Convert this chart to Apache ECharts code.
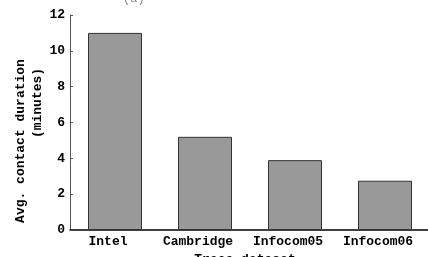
<!DOCTYPE html>
<html>
<head>
<meta charset="utf-8">
<script src="https://cdn.jsdelivr.net/npm/echarts@6/dist/echarts.min.js"></script>
<style>
  html, body { margin: 0; padding: 0; background: #fff; }
  #chart { width: 428px; height: 257px; }
</style>
</head>
<body>
<div id="chart"></div>
<script>
const datasets = ['Intel', 'Cambridge', 'Infocom05', 'Infocom06'];
const durations = [11, 5.2, 3.9, 2.75];

const font = 'Liberation Mono';

const chart = echarts.init(document.getElementById('chart'));
chart.setOption({
  animation: false,
  title: {
    text: '(a)',
    left: 118,
    top: -12,
    textStyle: { fontFamily: font, fontSize: 12, fontWeight: 'normal', color: '#888' }
  },
  grid: { left: 70, right: -2, top: 15, bottom: 27, outerBoundsMode: 'none', containLabel: false },
  xAxis: {
    type: 'category',
    data: datasets,
    name: 'Trace dataset',
    nameLocation: 'middle',
    nameGap: 17,
    nameTextStyle: { fontFamily: font, fontSize: 13, fontWeight: 'bold', color: '#000', padding: [0, 10, 0, 0] },
    axisLine: { lineStyle: { color: '#000', width: 1.5 } },
    axisTick: { show: false },
    axisLabel: { interval: 0, fontFamily: font, fontSize: 13, fontWeight: 'bold', color: '#000', margin: 5, padding: [0, 14, 0, 0] }
  },
  yAxis: {
    type: 'value',
    min: 0,
    max: 12,
    interval: 2,
    name: 'Avg. contact duration',
    nameLocation: 'middle',
    nameGap: 43,
    nameTextStyle: { fontFamily: font, fontSize: 13, fontWeight: 'bold', color: '#000', padding: [0, 37, 0, 0] },
    axisLine: { show: true, lineStyle: { color: '#555', width: 1 } },
    axisTick: { show: true, inside: true, length: 3, lineStyle: { color: '#555' } },
    splitLine: { show: false },
    axisLabel: { fontFamily: font, fontSize: 13, fontWeight: 'bold', color: '#000', margin: 5 }
  },
  graphic: [{
    type: 'text',
    x: 38,
    y: 103,
    rotation: Math.PI / 2,
    style: {
      text: '(minutes)',
      font: 'bold 13px "Liberation Mono"',
      fill: '#000',
      align: 'center',
      verticalAlign: 'middle'
    }
  }],
  series: [{
    type: 'bar',
    data: durations,
    barWidth: '60%',
    itemStyle: { color: '#999999', borderColor: '#333', borderWidth: 1 }
  }]
});
</script>
</body>
</html>
